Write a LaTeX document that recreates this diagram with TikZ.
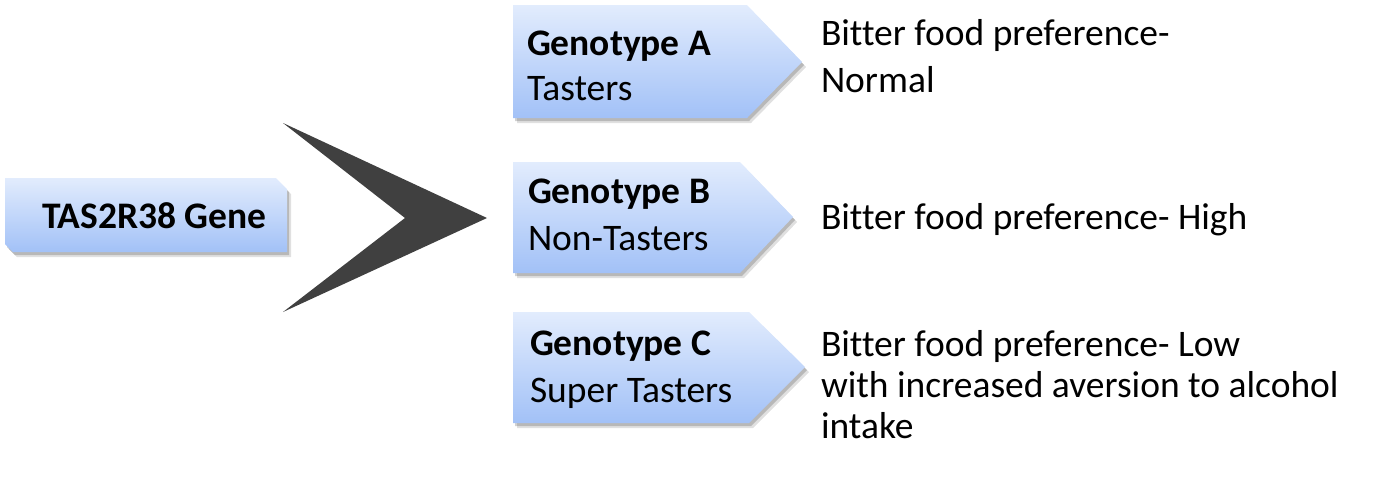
\documentclass[tikz,border=0pt]{standalone}
\usepackage{fontspec}
\setmainfont{Carlito}[Ligatures=NoCommon]
\definecolor{boxtop}{HTML}{E2ECFD}
\definecolor{boxbot}{HTML}{A2C1F7}
\definecolor{chev}{HTML}{404040}
\tikzset{
  boxfill/.style={top color=boxtop, bottom color=boxbot, draw=none},
  shadowA/.style={fill=black, opacity=0.18, draw=none},
  shadowB/.style={fill=black, opacity=0.12, draw=none},
  txt/.style={anchor=base west, inner sep=0pt, outer sep=0pt, align=left, font=\fontsize{37.5}{46}\selectfont},
  btxt/.style={txt, font=\fontsize{37.5}{46}\selectfont\bfseries}
}
\begin{document}
\begin{tikzpicture}[x=1pt,y=-1pt]
\useasboundingbox (0,0) rectangle (1394,480);
% ---- TAS2R38 box (snipped diagonal corners)
\def\genepath{(5,178) -- (276,178) -- (287,189) -- (287,252) -- (13,252) -- (5,244) -- cycle}
\fill[shadowB, shift={(4,5)}] \genepath;
\fill[shadowA, shift={(2,3)}] \genepath;
\path[boxfill] \genepath;
\node[btxt] (gene) at (42,228) {TAS2R38 Gene};
% ---- big chevron
\fill[chev] (283,123) -- (487,218) -- (283,312) -- (405,218) -- cycle;
\coordinate (chevtip) at (487,218);
% ---- genotype boxes
\def\plateA{(513,5) -- (747,5) -- (802,62) -- (747,118) -- (513,118) -- cycle}
\def\plateB{(513,162) -- (740,162) -- (793,217) -- (740,273) -- (513,273) -- cycle}
\def\plateC{(513,312) -- (749,312) -- (805,367) -- (749,423) -- (513,423) -- cycle}
\foreach \p in {\plateA,\plateB,\plateC}{
  \fill[shadowB, shift={(4,5)}] \p;
  \fill[shadowA, shift={(2,3)}] \p;
  \path[boxfill] \p;
}
\node[btxt] (gA) at (527,55) {Genotype A};
\node[txt] (tA) at (527,100) {Tasters};
\node[btxt] (gB) at (528,203) {Genotype B};
\node[txt] (tB) at (528,250) {Non-Tasters};
\node[btxt] (gC) at (530,355) {Genotype C};
\node[txt] (tC) at (530,402) {Super Tasters};
% ---- outcome texts (base anchor = last line)
\node[txt, font=\fontsize{37.5}{47}\selectfont] (oA) at (821,92) {Bitter food preference-\\Normal};
\node[txt] (oB) at (821,229) {Bitter food preference- High};
\node[txt, font=\fontsize{37.5}{41}\selectfont] (oC) at (821,438) {Bitter food preference- Low\\with increased aversion to alcohol\\intake};
\end{tikzpicture}
\end{document}
